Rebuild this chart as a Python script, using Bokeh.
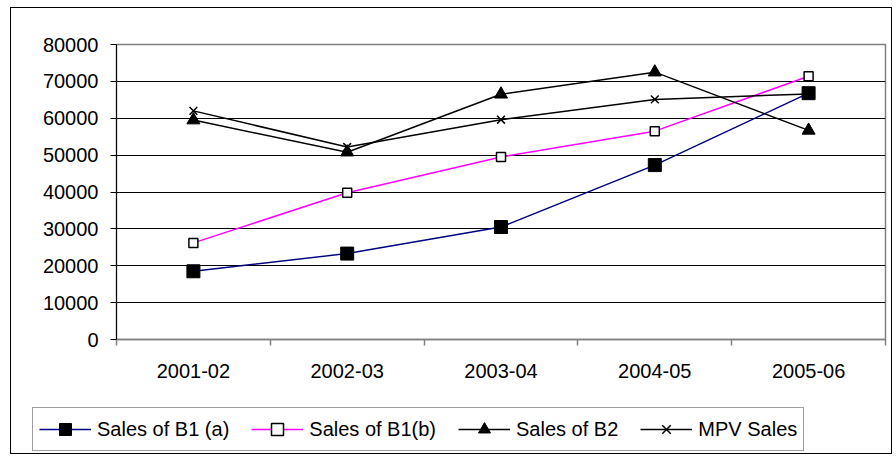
from bokeh.plotting import figure
from bokeh.layouts import column
from bokeh.models import FixedTicker, Legend, LegendItem
from bokeh.embed import file_html
from bokeh.resources import INLINE

categories = ["2001-02", "2002-03", "2003-04", "2004-05", "2005-06"]
sales_b1a = [18500, 23300, 30500, 47300, 66800]
sales_b1b = [26200, 39800, 49500, 56500, 71400]
sales_b2 = [59500, 50800, 66500, 72500, 56700]
mpv_sales = [62000, 52200, 59600, 65100, 66600]
y_ticks = [0, 10000, 20000, 30000, 40000, 50000, 60000, 70000, 80000]
series_names = ["Sales of B1 (a)", "Sales of B1(b)", "Sales of B2", "MPV Sales"]

xs = [i + 0.5 for i in range(len(categories))]
bounds = list(range(len(categories) + 1))
all_series = [sales_b1a, sales_b1b, sales_b2, mpv_sales]

FONT = "Liberation Sans"

styles = [
    dict(line_color="#000080", marker="square", size=13, fill_color="black", mline="black", mwidth=1),
    dict(line_color="#FF00FF", marker="square", size=9, fill_color="white", mline="black", mwidth=1.5),
    dict(line_color="black", marker="triangle", size=13, fill_color="black", mline="black", mwidth=1),
    dict(line_color="black", marker="x", size=11, fill_color="black", mline="black", mwidth=1.5),
]

p = figure(width=880, height=392, x_range=(0, len(categories)), y_range=(0, 80000),
           output_backend="svg", toolbar_location=None,
           min_border_left=105, min_border_right=6, min_border_top=36, min_border_bottom=61)
p.background_fill_color = "white"
p.border_fill_color = "white"
p.outline_line_color = "#808080"
p.outline_line_width = 1.5
p.frame_align = False

# axes
p.xaxis.ticker = FixedTicker(ticks=xs, minor_ticks=bounds)
p.xaxis.major_label_overrides = {x: c for x, c in zip(xs, categories)}
p.xaxis.major_tick_line_color = None
p.xaxis.minor_tick_in = 0
p.xaxis.minor_tick_out = 6
p.xaxis.minor_tick_line_color = "#808080"
p.xaxis.minor_tick_line_width = 1.5
p.xaxis.axis_line_color = "#808080"
p.xaxis.axis_line_width = 1.5
p.xaxis.major_label_standoff = 18
p.yaxis.ticker = FixedTicker(ticks=y_ticks)
p.yaxis.minor_tick_line_color = None
p.yaxis.major_tick_in = 0
p.yaxis.major_tick_out = 6
p.yaxis.major_tick_line_color = "black"
p.yaxis.axis_line_color = "black"
p.yaxis.major_label_standoff = 12
for ax in (p.xaxis, p.yaxis):
    ax.major_label_text_font = FONT
    ax.major_label_text_font_size = "20px"
    ax.major_label_text_color = "black"

p.xgrid.grid_line_color = None
p.ygrid.ticker = FixedTicker(ticks=y_ticks)
p.ygrid.grid_line_color = "black"
p.ygrid.grid_line_width = 1

# series
for vals, st in zip(all_series, styles):
    p.line(xs, vals, line_color=st["line_color"], line_width=1.5)
    p.scatter(xs, vals, marker=st["marker"], size=st["size"], fill_color=st["fill_color"],
              line_color=st["mline"], line_width=st["mwidth"])

# legend strip (separate figure below the chart); its range hides the series themselves
lf = figure(width=880, height=53, x_range=(0, len(categories)), y_range=(-2, -1),
            output_backend="svg", toolbar_location=None, min_border=0,
            x_axis_location=None, y_axis_location=None)
lf.frame_align = False
lf.grid.grid_line_color = None
lf.outline_line_color = None
lf.background_fill_color = "white"
lf.border_fill_color = "white"
items = []
for name, vals, st in zip(series_names, all_series, styles):
    lr = lf.line(xs, vals, line_color=st["line_color"], line_width=1.5)
    mr = lf.scatter(xs, vals, marker=st["marker"], size=st["size"], fill_color=st["fill_color"],
                    line_color=st["mline"], line_width=st["mwidth"])
    items.append(LegendItem(label=name, renderers=[lr, mr]))

legend = Legend(items=items, orientation="horizontal", location=(21, 2))
legend.label_text_font = FONT
legend.label_text_font_size = "20px"
legend.label_text_color = "black"
legend.glyph_width = 52
legend.glyph_height = 30
legend.label_standoff = 6
legend.spacing = 22
legend.padding = 6
legend.margin = 0
legend.border_line_color = "#404040"
legend.border_line_width = 1
legend.background_fill_color = "white"
legend.background_fill_alpha = 1
lf.add_layout(legend, "center")

layout = column(p, lf, spacing=0)
layout.styles = {"border": "1px solid black", "margin-left": "10px", "margin-top": "7px",
                 "background-color": "white"}

open("out.html", "w").write(file_html(layout, INLINE))
